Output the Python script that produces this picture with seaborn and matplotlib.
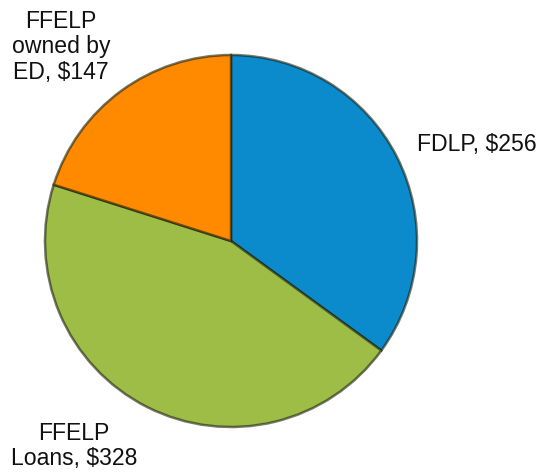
import matplotlib
matplotlib.use("Agg")
import matplotlib.pyplot as plt
import seaborn as sns

# Outstanding student loan portfolio by program ($ billions)
programs = ["FDLP", "FFELP\nLoans", "FFELP\nowned by\nED"]
amounts = [256, 328, 147]
slice_colors = ["#0b8bcb", "#9dbd47", "#ff8a00"]

sns.set_theme(style="white")
plt.rcParams["font.family"] = ["Liberation Sans", "DejaVu Sans"]

W, H = 545, 472
fig = plt.figure(figsize=(W / 100, H / 100), dpi=100)
ax = fig.add_axes([0, 0, 1, 1])

cx, cy, r = 231, H - 241, 186

wedges, _ = ax.pie(
    amounts,
    colors=slice_colors,
    startangle=90,
    counterclock=False,
    center=(cx, cy),
    radius=r,
    frame=True,
    wedgeprops=dict(edgecolor=(0.1, 0.12, 0.05, 0.6), linewidth=1.8),
)
ax.set_xlim(0, W)
ax.set_ylim(0, H)
ax.set_aspect("equal")
ax.axis("off")

# label anchor points (x, y from top) for each slice
label_pos = [(477, 145), (74, 446), (61, 47)]
for name, value, (lx, ly) in zip(programs, amounts, label_pos):
    ax.text(lx, H - ly, f"{name}, ${value}", ha="center", va="center",
            fontsize=16.6, color="#111111", linespacing=1.15)

fig.savefig("out.png", dpi=100)
